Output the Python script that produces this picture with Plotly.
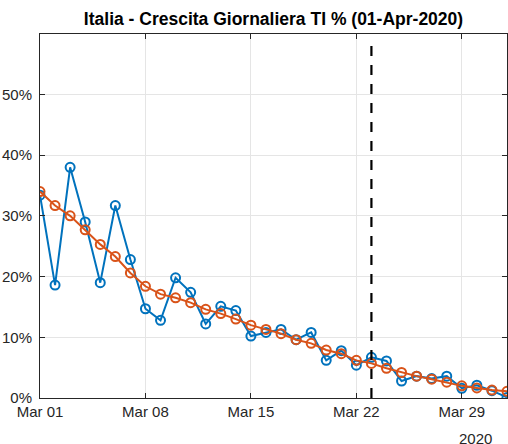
import pandas as pd
import plotly.graph_objects as go

dates = pd.date_range("2020-03-01", periods=32, freq="D")

crescita = [33.4, 18.6, 38.0, 29.0, 19.0, 31.7, 22.8, 14.7, 12.8, 19.8,
            17.4, 12.2, 15.1, 14.4, 10.2, 10.8, 11.3, 9.6, 10.8, 6.2,
            7.8, 5.4, 6.7, 6.1, 2.8, 3.6, 3.2, 3.6, 1.6, 2.1, 1.2, 0.1]

tendenza = [34.0, 31.7, 30.0, 27.7, 25.3, 23.3, 20.6, 18.4, 17.1, 16.5,
            15.7, 14.6, 13.9, 13.0, 12.0, 11.3, 10.6, 9.6, 9.0, 7.9,
            7.3, 6.2, 5.7, 4.9, 4.2, 3.6, 3.1, 2.6, 2.0, 1.65, 1.3, 1.1]

tick_dates = ["2020-03-01", "2020-03-08", "2020-03-15", "2020-03-22", "2020-03-29"]
tick_labels = ["Mar 01", "Mar 08", "Mar 15", "Mar 22", "Mar 29"]
y_ticks = [0, 10, 20, 30, 40, 50]
y_labels = ["0%", "10%", "20%", "30%", "40%", "50%"]
linea_data = "2020-03-23"

blue = "#0072BD"
orange = "#D95319"
axcol = "#262626"
font = "Liberation Sans, Arial, Helvetica, sans-serif"

fig = go.Figure()
fig.add_trace(go.Scatter(
    x=dates, y=crescita, mode="lines+markers",
    line=dict(color=blue, width=2),
    marker=dict(symbol="circle-open", size=9, color=blue, line=dict(width=2)),
    showlegend=False))
fig.add_trace(go.Scatter(
    x=dates, y=tendenza, mode="lines+markers",
    line=dict(color=orange, width=2),
    marker=dict(symbol="circle-open", size=9, color=orange, line=dict(width=2)),
    showlegend=False))

fig.add_shape(type="line", xref="x", yref="paper", x0=linea_data, x1=linea_data,
              y0=0, y1=0.975, line=dict(color="black", width=2.2, dash="10px,9px"))

fig.update_layout(
    width=508, height=444,
    margin=dict(l=40, r=1, t=34, b=46, autoexpand=False),
    paper_bgcolor="white", plot_bgcolor="white",
    font=dict(family=font, size=15, color=axcol),
    title=dict(text="<b>Italia - Crescita Giornaliera TI % (01-Apr-2020)</b>",
               x=(40 + 233.5) / 508, xanchor="center", y=1 - 19 / 444, yanchor="middle",
               font=dict(family=font, size=17.5, color="black")),
    xaxis=dict(range=["2020-03-01", "2020-04-01"], tickvals=tick_dates, ticktext=tick_labels,
               showgrid=True, gridcolor="#e5e5e5", gridwidth=1, automargin=False,
               showline=True, linecolor=axcol, linewidth=1, mirror="ticks",
               ticks="inside", ticklen=5, tickcolor=axcol, zeroline=False),
    yaxis=dict(range=[0, 59.95], tickvals=y_ticks, ticktext=y_labels,
               showgrid=True, gridcolor="#e5e5e5", gridwidth=1, automargin=False,
               showline=True, linecolor=axcol, linewidth=1, mirror="ticks",
               ticks="inside", ticklen=5, tickcolor=axcol, zeroline=False,
               ticklabelstandoff=4),
    annotations=[dict(text="2020", xref="paper", yref="paper", x=(475 - 40) / 467,
                      y=-40 / 364, xanchor="center", yanchor="middle", showarrow=False,
                      font=dict(family=font, size=15, color=axcol))],
)

fig.write_html("out.html", config={"displayModeBar": False},
               post_script="document.body.style.margin='0';")
